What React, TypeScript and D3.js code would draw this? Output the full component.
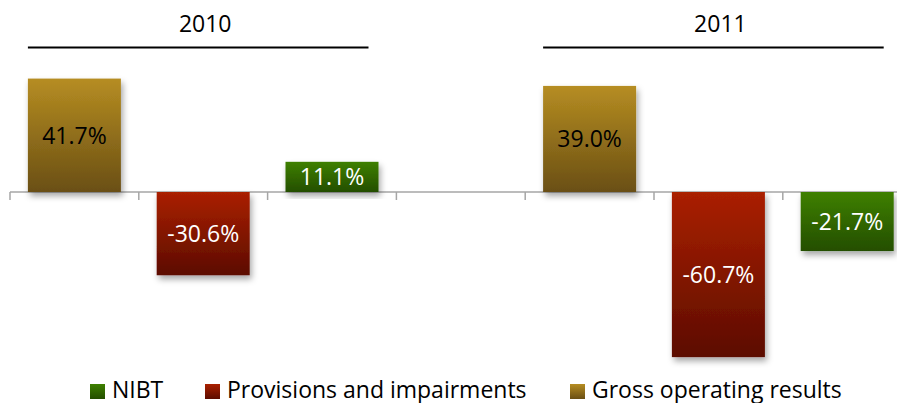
import {useEffect, useRef} from 'react'
import * as d3 from 'd3'

const years = ['2010', '2011'];
const series = ['Gross operating results', 'Provisions and impairments', 'NIBT'];
const values2010 = [41.7, -30.6, 11.1];
const values2011 = [39.0, -60.7, -21.7];
const legendOrder = ['NIBT', 'Provisions and impairments', 'Gross operating results'];

const colors: Record<string, [string, string]> = {
  'Gross operating results': ['#b68d22', '#6a4f14'],
  'Provisions and impairments': ['#aa2000', '#5c0c00'],
  'NIBT': ['#3e8000', '#244e00'],
};
const labelColor: Record<string, string> = {
  'Gross operating results': '#000',
  'Provisions and impairments': '#fff',
  'NIBT': '#fff',
};

const W = 897;
const H = 403;
const FONT = '"Open Sans", sans-serif';

const App = () => {
  const ref = useRef<SVGSVGElement>(null);

  useEffect(() => {
    if (!ref.current) return;
    const svg = d3.select(ref.current);
    svg.selectAll('*').remove();

    // slots: 3 bars per year with an empty slot between years
    const rows: {slot: string; year: string; name: string; value: number}[] = [];
    const slots: string[] = [];
    years.forEach((yr, yi) => {
      const vals = yi === 0 ? values2010 : values2011;
      series.forEach((s, i) => {
        const slot = `${yr}-${s}`;
        slots.push(slot);
        rows.push({slot, year: yr, name: s, value: vals[i]});
      });
      if (yi < years.length - 1) slots.push(`gap-${yi}`);
    });

    const step = 128.8;
    const x = d3.scaleBand<string>()
      .domain(slots)
      .range([10, 10 + step * slots.length])
      .paddingInner(0.278)
      .paddingOuter(0.139);

    const y = d3.scaleLinear().domain([-70, 50]).range([192 + 70 * 2.72, 192 - 50 * 2.72]);

    const defs = svg.append('defs');
    Object.entries(colors).forEach(([name, [top, bottom]], i) => {
      const g = defs.append('linearGradient')
        .attr('id', `grad${i}`)
        .attr('x1', 0).attr('y1', 0).attr('x2', 0).attr('y2', 1);
      g.append('stop').attr('offset', '0%').attr('stop-color', top);
      g.append('stop').attr('offset', '100%').attr('stop-color', bottom);
    });
    const gradId = (name: string) => `url(#grad${Object.keys(colors).indexOf(name)})`;

    defs.append('filter')
      .attr('id', 'shadow')
      .attr('x', '-20%').attr('y', '-20%').attr('width', '140%').attr('height', '140%')
      .append('feDropShadow')
        .attr('dx', 2).attr('dy', 4).attr('stdDeviation', 3)
        .attr('flood-color', '#000').attr('flood-opacity', 0.35);

    //axis line and ticks
    const axis = svg.append('g');
    axis.append('line')
      .attr('x1', x.range()[0]).attr('x2', x.range()[1])
      .attr('y1', y(0)).attr('y2', y(0))
      .attr('stroke', '#a6a6a6').attr('stroke-width', 1.5);
    axis.selectAll('line.tick')
      .data(d3.range(slots.length + 1))
      .join('line')
        .attr('class', 'tick')
        .attr('x1', d => 10 + d * x.step()).attr('x2', d => 10 + d * x.step())
        .attr('y1', y(0)).attr('y2', y(0) + 8)
        .attr('stroke', '#a6a6a6').attr('stroke-width', 1.5);

    //bars
    svg.append('g')
      .selectAll('rect')
      .data(rows)
      .join('rect')
        .attr('x', d => x(d.slot)!)
        .attr('width', x.bandwidth())
        .attr('y', d => y(Math.max(0, d.value)))
        .attr('height', d => Math.abs(y(d.value) - y(0)))
        .attr('fill', d => gradId(d.name))
        .attr('filter', 'url(#shadow)');

    //value labels
    svg.append('g')
      .selectAll('text')
      .data(rows)
      .join('text')
        .attr('x', d => x(d.slot)! + x.bandwidth() / 2)
        .attr('y', d => (y(d.value) + y(0)) / 2)
        .attr('dy', '0.36em')
        .attr('text-anchor', 'middle')
        .attr('font-family', FONT)
        .attr('font-size', 23)
        .attr('fill', d => labelColor[d.name])
        .text(d => `${d.value.toFixed(1)}%`);

    //year headers
    years.forEach(yr => {
      const first = x(`${yr}-${series[0]}`)!;
      const last = x(`${yr}-${series[series.length - 1]}`)! + x.bandwidth();
      const mid = x(`${yr}-${series[1]}`)! + x.bandwidth() / 2;
      svg.append('line')
        .attr('x1', first).attr('x2', last - 10)
        .attr('y1', 47.5).attr('y2', 47.5)
        .attr('stroke', '#000').attr('stroke-width', 2);
      svg.append('text')
        .attr('x', mid + 2).attr('y', 32)
        .attr('text-anchor', 'middle')
        .attr('font-family', FONT)
        .attr('font-size', 23)
        .attr('fill', '#000')
        .text(yr);
    });

    //legend
    const legendX = [90, 205, 570];
    const legend = svg.append('g')
      .selectAll('g')
      .data(legendOrder)
      .join('g')
        .attr('transform', (d, i) => `translate(${legendX[i]},384)`);
    legend.append('rect')
      .attr('width', 15).attr('height', 15)
      .attr('fill', d => gradId(d));
    legend.append('text')
      .attr('x', 22).attr('y', 14)
      .attr('font-family', FONT)
      .attr('font-size', 23)
      .attr('fill', '#000')
      .text(d => d);
  }, []);

  return (
    <svg
      ref={ref}
      width={W}
      height={H}
      style={{position: 'absolute', left: 0, top: 0, background: '#fff'}}
    />
  )
}
export default App
